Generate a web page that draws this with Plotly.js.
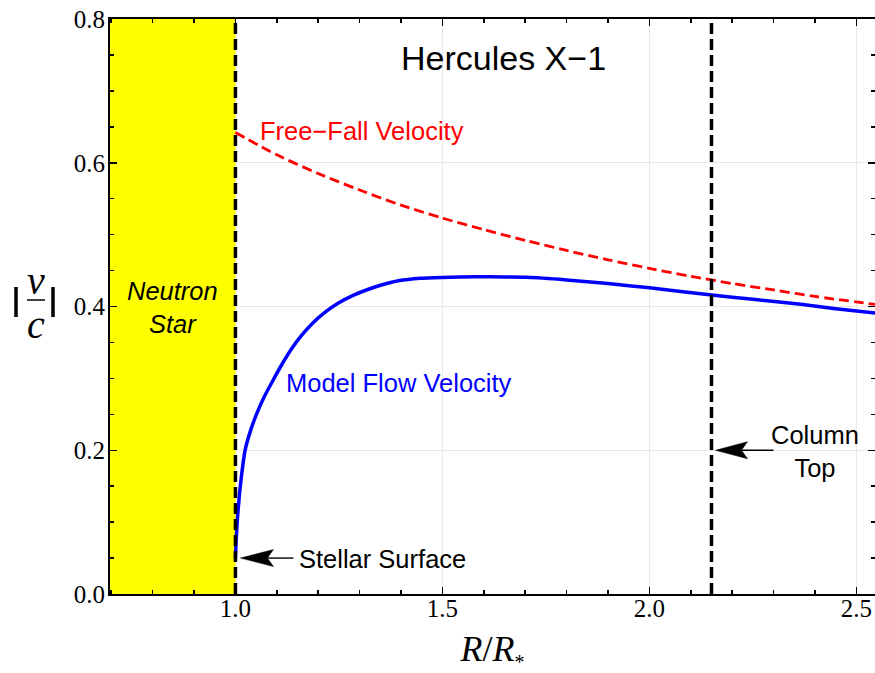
<!DOCTYPE html>
<html>
<head>
<meta charset="utf-8">
<script src="https://cdn.plot.ly/plotly-3.0.1.min.js"></script>
<style>html,body{margin:0;padding:0;background:#fff;}#chart{width:875px;height:673px;}</style>
</head>
<body>
<div id="chart"></div>
<script>
// Free-fall velocity |v/c| vs R/R*
const xFree = [1.0, 1.1, 1.2, 1.3, 1.4, 1.5, 1.6, 1.7, 1.8, 1.9, 2.0, 2.1, 2.2, 2.3, 2.4, 2.545];
const vFree = [0.642, 0.611, 0.585, 0.562, 0.541, 0.523, 0.507, 0.492, 0.478, 0.465, 0.453, 0.442, 0.432, 0.423, 0.414, 0.403];

// Model flow velocity |v/c| vs R/R*
const xModel = [1.000, 1.0017, 1.0053, 1.0101, 1.0162, 1.0234, 1.0355, 1.050, 1.0693, 1.0886, 1.1128, 1.1362, 1.1587, 1.1845, 1.2167, 1.2488, 1.2843, 1.3213, 1.3568, 1.3937, 1.4461, 1.4993, 1.583, 1.650, 1.704, 1.800, 1.900, 2.000, 2.151, 2.250, 2.366, 2.450, 2.546];
const vModel = [0.050, 0.075, 0.1084, 0.1411, 0.1718, 0.2003, 0.2256, 0.249, 0.2741, 0.295, 0.320, 0.3416, 0.359, 0.3757, 0.3921, 0.4049, 0.4155, 0.424, 0.4306, 0.4357, 0.4393, 0.4405, 0.4415, 0.441, 0.4406, 0.437, 0.432, 0.426, 0.416, 0.410, 0.403, 0.397, 0.391];

// Reference positions
const starSurface = 1.0;
const columnTop = 2.15;
const xRange = [0.697, 2.545];
const yRange = [0, 0.8];

const titleText = 'Hercules X\u22121';
const freeLabel = 'Free\u2212Fall Velocity';
const modelLabel = 'Model Flow Velocity';
const starLabel = '<i>Neutron</i><br><i>Star</i>';
const surfaceLabel = 'Stellar Surface';
const columnLabel = 'Column<br>Top';

const sans = 'Liberation Sans, Arial, sans-serif';
const serif = 'Liberation Serif, Times New Roman, serif';

// paper coords helpers (plot area: x 110..875, y 19..594)
const px = p => (p - 110) / 765;
const py = p => (594 - p) / 575;

const traces = [
  // neutron star region (filled)
  {x: [xRange[0], starSurface, starSurface, xRange[0]], y: [yRange[0], yRange[0], yRange[1], yRange[1]],
   mode: 'lines', fill: 'toself', fillcolor: '#ffff00', line: {width: 0, color: '#ffff00'}, hoverinfo: 'skip'},
  {x: xFree, y: vFree, mode: 'lines', line: {color: '#ff0000', width: 2.8, dash: '10px,5px', shape: 'spline', smoothing: 0.8}, hoverinfo: 'skip'},
  {x: xModel, y: vModel, mode: 'lines', line: {color: '#0000ff', width: 3.5, shape: 'spline', smoothing: 0.5}, hoverinfo: 'skip'}
];

const axisCommon = {
  showline: true, linecolor: 'black', linewidth: 2, mirror: 'ticks',
  ticks: 'inside', ticklen: 7, tickwidth: 1.5, tickcolor: 'black',
  showgrid: true, gridcolor: '#e8e8e8', gridwidth: 1, zeroline: false,
  tickfont: {family: serif, size: 25, color: 'black'}
};

const layout = {
  width: 875, height: 673,
  margin: {l: 110, r: 0, t: 19, b: 79},
  paper_bgcolor: 'white', plot_bgcolor: 'white',
  showlegend: false,
  xaxis: Object.assign({}, axisCommon, {
    range: xRange, dtick: 0.5, tick0: 0, tickformat: '.1f',
    minor: {dtick: 0.1, ticklen: 4, tickwidth: 1.5, tickcolor: 'black', ticks: 'inside', showgrid: false},
    ticklabelstandoff: -9,
    title: {text: '<i>R</i>/<i>R</i><sub><span style="font-size:20px">*</span></sub>', font: {family: serif, size: 36, color: 'black'}, standoff: 27}
  }),
  yaxis: Object.assign({}, axisCommon, {
    range: yRange, dtick: 0.2, tick0: 0, tickformat: '.1f',
    minor: {dtick: 0.05, ticklen: 4, tickwidth: 1.5, tickcolor: 'black', ticks: 'inside', showgrid: false},
    ticklabelstandoff: -2,
    title: {text: ''}
  }),
  shapes: [
    {type: 'line', xref: 'x', yref: 'y', x0: starSurface, x1: starSurface, y0: yRange[0], y1: yRange[1],
     line: {color: 'black', width: 3.5, dash: '11px,5px'}},
    {type: 'line', xref: 'x', yref: 'y', x0: columnTop, x1: columnTop, y0: yRange[0], y1: yRange[1],
     line: {color: 'black', width: 3.5, dash: '11px,5px'}},
    // arrow: stellar surface
    {type: 'path', xref: 'x', yref: 'y', xsizemode: 'pixel', ysizemode: 'pixel', xanchor: starSurface, yanchor: 0.05,
     path: 'M5,0 L38,8.5 L32,0 L38,-8.5 Z', fillcolor: 'black', line: {color: 'black', width: 0.5}},
    {type: 'line', xref: 'x', yref: 'y', xsizemode: 'pixel', ysizemode: 'pixel', xanchor: starSurface, yanchor: 0.05,
     x0: 32, x1: 58, y0: 0, y1: 0, line: {color: 'black', width: 1.4}},
    // arrow: column top
    {type: 'path', xref: 'x', yref: 'y', xsizemode: 'pixel', ysizemode: 'pixel', xanchor: columnTop, yanchor: 0.2,
     path: 'M4,0 L36,8.5 L30,0 L36,-8.5 Z', fillcolor: 'black', line: {color: 'black', width: 0.5}},
    {type: 'line', xref: 'x', yref: 'y', xsizemode: 'pixel', ysizemode: 'pixel', xanchor: columnTop, yanchor: 0.2,
     x0: 30, x1: 62, y0: 0, y1: 0, line: {color: 'black', width: 1.4}},
    // y-title |v/c| parts
    {type: 'line', xref: 'paper', yref: 'paper', x0: px(27), x1: px(45), y0: py(300), y1: py(300), line: {color: 'black', width: 1.5}},
    {type: 'line', xref: 'paper', yref: 'paper', x0: px(16), x1: px(16), y0: py(287), y1: py(317), line: {color: 'black', width: 3.5}},
    {type: 'line', xref: 'paper', yref: 'paper', x0: px(53), x1: px(53), y0: py(287), y1: py(317), line: {color: 'black', width: 3.5}}
  ],
  annotations: [
    {text: titleText, xref: 'paper', yref: 'paper', x: px(503.5), y: py(58), xanchor: 'center', yanchor: 'middle',
     showarrow: false, font: {family: sans, size: 34, color: 'black'}},
    {text: freeLabel, xref: 'paper', yref: 'paper', x: px(258), y: py(131), xanchor: 'left', yanchor: 'middle',
     showarrow: false, font: {family: sans, size: 25.5, color: '#ff0000'}},
    {text: modelLabel, xref: 'paper', yref: 'paper', x: px(284), y: py(383), xanchor: 'left', yanchor: 'middle',
     showarrow: false, font: {family: sans, size: 25.5, color: '#0000ff'}},
    {text: starLabel, xref: 'paper', yref: 'paper', x: px(172.5), y: py(307), xanchor: 'center', yanchor: 'middle',
     showarrow: false, font: {family: sans, size: 25.5, color: 'black'}},
    {text: surfaceLabel, xref: 'paper', yref: 'paper', x: px(297), y: py(559), xanchor: 'left', yanchor: 'middle',
     showarrow: false, font: {family: sans, size: 25.5, color: 'black'}},
    {text: columnLabel, xref: 'paper', yref: 'paper', x: px(815), y: py(451), xanchor: 'center', yanchor: 'middle',
     showarrow: false, font: {family: sans, size: 25.5, color: 'black'}},
    {text: '<i>v</i>', xref: 'paper', yref: 'paper', x: px(36), y: py(280), xanchor: 'center', yanchor: 'middle',
     showarrow: false, font: {family: serif, size: 40, color: 'black'}},
    {text: '<i>c</i>', xref: 'paper', yref: 'paper', x: px(36), y: py(324), xanchor: 'center', yanchor: 'middle',
     showarrow: false, font: {family: serif, size: 40, color: 'black'}}
  ]
};

Plotly.newPlot('chart', traces, layout, {staticPlot: true, displayModeBar: false});
</script>
</body>
</html>
